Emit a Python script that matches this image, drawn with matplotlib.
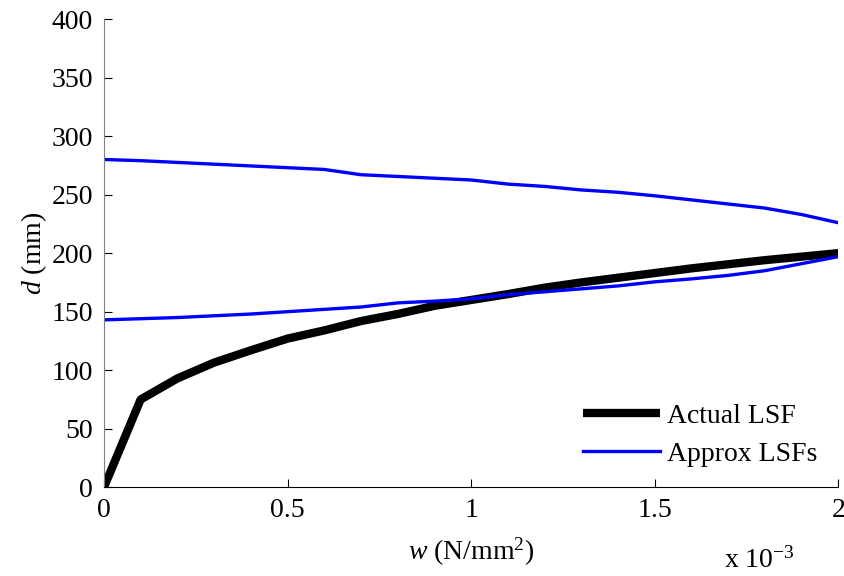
import numpy as np
import matplotlib.pyplot as plt
from matplotlib.ticker import FuncFormatter

plt.rcParams['font.family'] = ['Liberation Serif', 'DejaVu Serif']
plt.rcParams['mathtext.fontset'] = 'custom'
plt.rcParams['mathtext.it'] = 'Liberation Serif:italic'
plt.rcParams['mathtext.rm'] = 'Liberation Serif'

# w in units of 1e-3 N/mm^2
w = [0.0, 0.1, 0.2, 0.3, 0.4, 0.5, 0.6, 0.7, 0.8, 0.9, 1.0,
     1.1, 1.2, 1.3, 1.4, 1.5, 1.6, 1.7, 1.8, 1.9, 2.0]

actual_lsf = [0, 75, 93, 106.5, 117, 127, 134, 142, 148, 155, 160,
              165, 170.5, 175, 179, 183, 187, 190.5, 194, 197, 200]
approx_upper = [280, 279, 277.5, 276, 274.5, 273, 271.5, 267, 265.5, 264, 262.5,
                259, 257, 254, 252, 249, 245.5, 242, 238.5, 233, 226]
approx_lower = [143, 144, 145, 146.5, 148, 150, 152, 154, 157.5, 159, 161,
                164.5, 167, 169.5, 172, 175.5, 178, 181, 185, 191, 197]

fig = plt.figure(figsize=(8.45, 5.76), dpi=100)
ax = fig.add_axes([0.123, 0.154, 0.869, 0.813])

ax.plot(w, actual_lsf, color='black', lw=6, label='Actual LSF', solid_capstyle='butt')
ax.plot(w, approx_upper, color='#0000ff', lw=2.4, label='Approx LSFs')
ax.plot(w, approx_lower, color='#0000ff', lw=2.4)

ax.set_xlim(0, 2)
ax.set_ylim(0, 400)
ax.set_xticks([0, 0.5, 1, 1.5, 2])
ax.set_yticks(range(0, 401, 50))
ax.xaxis.set_major_formatter(FuncFormatter(lambda v, p: '%g' % v))

ax.spines['top'].set_visible(False)
ax.spines['right'].set_visible(False)
ax.spines['left'].set_color('#808080')
ax.tick_params(direction='in', length=6, labelsize=20, pad=8)

ax.set_xlabel(r'$\mathit{w}$ (N/mm$^2$)', fontsize=20, labelpad=9)
ax.set_ylabel(r'$\mathit{d}$ (mm)', fontsize=20, labelpad=2)
fig.text(0.94, 0.004, r'x 10$^{-3}$', ha='right', va='bottom', fontsize=20)

ax.legend(loc='lower right', frameon=False, fontsize=20, handlelength=2.8,
          handletextpad=0.25, labelspacing=0.45, bbox_to_anchor=(1.006, -0.01))

fig.savefig('out.png', dpi=100)
